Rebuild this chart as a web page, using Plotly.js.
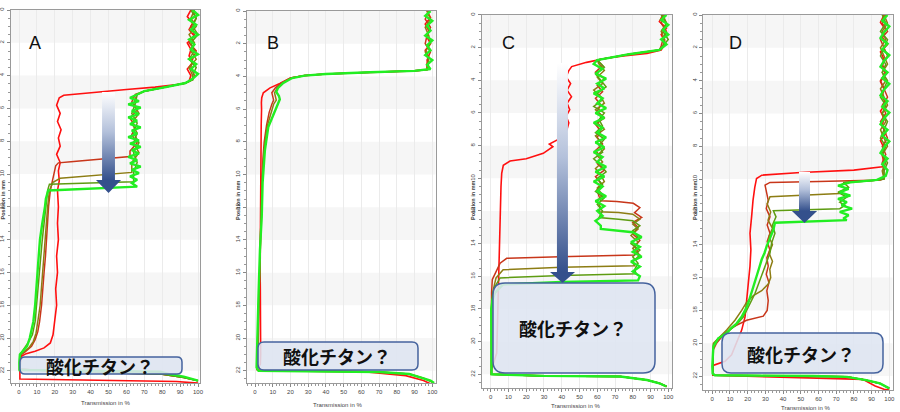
<!DOCTYPE html>
<html><head><meta charset="utf-8">
<script src="https://cdn.plot.ly/plotly-3.0.1.min.js"></script>
<style>html,body{margin:0;padding:0;background:#fff}#chart{width:900px;height:412px}</style>
</head><body><div id="chart"></div>
<script>
// ---- data: each curve is a list of [transmission %, position mm] ----
const A_red = [[96,0],[94,0.4],[97,0.8],[95,1.2],[98,1.6],[94,2.0],[96,2.4],[95,2.8],[97,3.2],[94,3.6],[96,4.0],[95,4.35],[92,4.5],[76,4.7],[60,4.85],[45,5.0],[33,5.1],[25,5.2],[22.5,5.35],[21,5.8],[23,6.3],[21.5,6.8],[23.5,7.3],[22,7.8],[23,8.3],[21,8.8],[23,9.3],[22,9.8],[22.5,10.4],[21.5,11],[22,12],[21.5,13],[22,14],[21,15],[21.5,16],[20.5,17],[21,18],[20,19],[19,19.8],[17.5,20.3],[14,20.6],[9,20.8],[4,20.95],[1.5,21.1],[0.8,21.5],[0.5,22.0],[0.5,22.5],[88,22.65],[100,22.75]];
const A_brown = [[97,0],[99,0.5],[96,1],[98,1.5],[95,2],[99,2.5],[97,3],[96,3.5],[98,4.0],[97,4.25],[93,4.45],[82,4.7],[70,4.95],[65,5.15],[63,5.6],[66,6.1],[62,6.6],[65,7.1],[63,7.6],[66,8.1],[62,8.6],[62,8.93],[52,9.05],[40,9.15],[29,9.25],[22,9.32],[20.5,9.5],[19.5,10],[18.5,10.5],[17.5,11],[16.5,12],[16,13],[15.5,14],[14.8,15],[14,16],[13.5,17],[12.6,18],[11.5,19],[10.5,19.6],[9,20.1],[7,20.5],[3.4,20.85],[1.5,21.0],[0.6,21.2],[0.4,21.9],[30,22.05],[80,22.2],[92,22.4],[100,22.6]];
const A_olive = [[98,0],[96,0.5],[99,1],[95,1.5],[98,2],[96,2.5],[99,3],[95,3.5],[97,4.0],[97,4.25],[93,4.45],[82,4.7],[70,4.95],[66,5.15],[64,5.7],[67,6.3],[63,6.9],[66,7.5],[64,8.1],[67,8.7],[63,9.3],[63,9.9],[50,10.02],[36,10.14],[23,10.26],[19,10.5],[17,11],[16,12],[15.3,13],[14.8,14],[14,15],[13.3,16],[12.5,17],[11.8,18],[10.5,19],[9.5,19.7],[8,20.2],[5.5,20.6],[2.5,20.85],[1,21.0],[0.4,21.2],[0.3,21.9],[30,22.05],[80,22.2],[92,22.4],[100,22.6]];
const A_olivegreen = [[96,0],[99,0.5],[97,1],[100,1.5],[96,2],[98,2.5],[95,3],[99,3.5],[97,4.0],[97,4.25],[93,4.45],[82,4.7],[70,4.95],[66,5.15],[65,5.7],[63,6.3],[66,6.9],[64,7.5],[67,8.1],[64,8.7],[66,9.3],[64,9.9],[64,10.47],[40,10.55],[17,10.62],[16.5,10.8],[16,11],[15,12],[13.8,13],[13,14],[12.2,15],[11.5,16],[10.8,17],[10,18],[9,19],[7.5,19.8],[5,20.3],[2.5,20.7],[1,20.9],[0.4,21.05],[0.3,21.9],[30,22.05],[80,22.2],[92,22.4],[100,22.6]];
const A_green = [[97,0],[100,0.3],[95,0.6],[99,0.9],[96,1.2],[100,1.5],[95,1.8],[98,2.1],[96,2.4],[100,2.7],[95,3.0],[99,3.3],[96,3.6],[100,3.9],[97,4.2],[93,4.45],[82,4.7],[70,4.95],[66,5.15],[62,5.35],[67,5.55],[61,5.75],[68,5.95],[63,6.15],[67,6.35],[61,6.55],[66,6.75],[62,6.95],[68,7.15],[63,7.35],[66,7.55],[61,7.75],[67,7.95],[62,8.15],[68,8.35],[63,8.55],[67,8.75],[61,8.95],[66,9.15],[62,9.35],[68,9.55],[63,9.75],[67,9.95],[62,10.15],[66,10.35],[63,10.55],[66,10.77],[40,10.9],[16.3,11.0],[15,11.5],[14.5,12],[13,13],[11.7,14],[11,15],[10.4,16],[9.8,17],[9,18],[8,19],[7,19.6],[6,20],[4.5,20.5],[2,20.8],[0.5,21.0],[0.2,21.5],[0.3,21.95],[79,22.05],[84,22.2],[92,22.35],[97,22.5],[100,22.6]];

const B_red = [[97,0],[99,0.4],[96,0.8],[98,1.2],[97,1.6],[99,2.0],[96,2.4],[98,2.8],[97,3.2],[97,3.58],[90,3.66],[65,3.75],[40,3.85],[28,3.95],[20,4.1],[14,4.43],[8.5,4.7],[4.7,5.0],[3.8,5.3],[3.6,5.6],[3.7,6],[3.5,7],[3.4,8],[3.3,9],[3.2,10],[3.3,11],[3.1,12],[3.0,13],[2.9,14],[3.0,15],[2.9,16],[3.0,17],[3.1,18],[3.2,19],[3.3,20],[3.2,21],[3.0,21.6],[1.5,21.85],[1,21.95],[60,22.05],[85,22.3],[95,22.6],[100,22.85]];
const B_brown = [[98,0],[96,0.5],[99,1],[97,1.5],[96,2],[99,2.5],[97,3],[98,3.4],[97,3.6],[90,3.66],[65,3.75],[40,3.85],[28,3.95],[20,4.1],[15,4.4],[11.5,4.7],[9.5,5.0],[10,5.25],[10.5,5.45],[9.5,5.7],[8,6.2],[6.5,7],[5.2,8],[4.5,9],[4,10],[3.5,12],[3,14],[2.6,16],[2.2,18],[1.9,20],[1.6,21.5],[1.2,21.9],[2,22.0],[70,22.07],[87,22.2],[95,22.45],[100,22.7]];
const B_olive = [[97,0],[99,0.5],[96,1],[98,1.5],[99,2],[96,2.5],[98,3],[97,3.4],[97,3.6],[90,3.66],[65,3.75],[40,3.85],[28,3.95],[20.5,4.1],[15.5,4.4],[12.5,4.7],[11,5.0],[11.5,5.25],[12,5.45],[10.5,5.7],[9,6.2],[7,7],[5.6,8],[4.8,9],[4.2,10],[3.6,12],[3.1,14],[2.6,16],[2.2,18],[1.8,20],[1.4,21.5],[1,21.9],[2,22.0],[70,22.07],[87,22.2],[95,22.45],[100,22.7]];
const B_green = [[99,0],[96,0.3],[100,0.6],[97,0.9],[99,1.2],[96,1.5],[100,1.8],[97,2.1],[99,2.4],[96,2.7],[100,3.0],[97,3.3],[99,3.55],[90,3.66],[65,3.75],[40,3.85],[28,3.95],[21,4.1],[16,4.4],[13,4.7],[12,4.95],[13.5,5.2],[14,5.4],[13,5.65],[10.3,6.3],[7.5,7.1],[5.6,8.5],[4.3,10.5],[3.8,12.6],[2.8,14.6],[1.9,17.7],[1.3,20.8],[0.9,21.8],[2,22.0],[70,22.08],[87,22.2],[95,22.45],[99,22.6],[101,22.75]];

const C_red = [[97,0],[95,0.4],[99,0.8],[96,1.2],[98,1.6],[97,1.95],[96,2.14],[88,2.35],[76,2.5],[65,2.65],[54,2.9],[45.6,3.16],[44,3.4],[42.5,3.8],[45,4.2],[43,4.6],[45.5,5.0],[43,5.4],[44.5,5.8],[42.5,6.2],[44,6.6],[43,7.0],[41,7.45],[37,7.65],[33,7.9],[35,8.06],[29.6,8.47],[20,8.8],[10.9,8.94],[7.1,9.2],[6.2,9.7],[5.8,10.5],[5.6,11.3],[5.4,12.4],[5.3,13.4],[5.0,14.4],[4.7,15.4],[4.5,16.4],[4.3,17.4],[4.1,18.5],[3.9,19.5],[3.7,20.2],[3.4,20.7],[2.5,21.0],[1.5,21.3],[0.5,21.7],[0.3,22.0],[30,22.1],[73,22.14],[88,22.35],[95,22.55],[99,22.75]];
const C_brown = [[98,0],[96,0.5],[99,1],[97,1.5],[96,1.9],[95,2.14],[78,2.4],[60,2.76],[63,3.1],[59,3.5],[64,3.9],[60,4.3],[63,4.7],[59,5.1],[62,5.5],[60,5.9],[64,6.3],[59,6.7],[62,7.1],[60,7.5],[63,7.9],[59,8.3],[62,8.7],[60,9.1],[64,9.5],[59,9.9],[62,10.3],[60,10.7],[61,11.1],[62,11.38],[71,11.42],[80.3,11.53],[84,11.8],[81,12.1],[85,12.4],[80,12.7],[83,13.0],[80,13.4],[84,13.8],[81,14.2],[83,14.5],[81,14.7],[39,14.8],[9,14.9],[5.3,15.2],[2.4,15.8],[0.9,16.2],[0.5,17],[0.4,21.9],[0.5,22.0],[30,22.1],[73,22.14],[88,22.35],[95,22.55],[99,22.75]];
const C_olive = [[97,0],[99,0.5],[96,1],[98,1.5],[97,1.9],[95,2.14],[78,2.4],[60,2.76],[61,3.0],[64,3.4],[60,3.8],[63,4.2],[58,4.6],[62,5.0],[64,5.4],[59,5.8],[63,6.2],[60,6.6],[64,7.0],[59,7.4],[62,7.8],[64,8.2],[60,8.6],[63,9.0],[59,9.4],[62,9.8],[64,10.2],[60,10.6],[63,11.0],[60,11.4],[62,11.8],[61,12.05],[72,12.1],[80,12.2],[84,12.5],[80,12.8],[83,13.1],[79,13.5],[83,13.9],[80,14.3],[84,14.7],[80,15.1],[81,15.35],[40,15.45],[7,15.6],[3,16.1],[1.5,16.8],[0.5,17.5],[0.4,21.9],[0.5,22.0],[30,22.1],[73,22.14],[88,22.35],[95,22.55],[99,22.75]];
const C_olivegreen = [[96,0],[99,0.5],[97,1],[100,1.5],[97,1.9],[95,2.14],[78,2.4],[60,2.76],[64,3.2],[59,3.6],[62,4.0],[65,4.4],[60,4.8],[63,5.2],[58,5.6],[64,6.0],[61,6.4],[63,6.8],[59,7.2],[64,7.6],[61,8.0],[63,8.4],[58,8.8],[62,9.2],[65,9.6],[60,10.0],[63,10.4],[59,10.8],[64,11.2],[60,11.6],[63,12.0],[61,12.4],[72,12.5],[80,12.6],[84,12.9],[80,13.2],[83,13.6],[79,14.0],[84,14.4],[80,14.8],[83,15.2],[81,15.6],[82,15.85],[40,15.95],[5.3,16.1],[2,16.7],[1,17.2],[0.4,18],[0.3,21.9],[0.5,22.0],[30,22.1],[73,22.14],[88,22.35],[95,22.55],[99,22.75]];
const C_green = [[99,0],[96,0.3],[100,0.6],[97,0.9],[100,1.2],[96,1.5],[99,1.8],[95,2.14],[78,2.4],[60,2.76],[58,3.0],[63,3.3],[59,3.6],[65,3.9],[60,4.2],[64,4.5],[58,4.8],[63,5.1],[60,5.4],[65,5.7],[59,6.0],[64,6.3],[58,6.6],[63,6.9],[60,7.2],[65,7.5],[59,7.8],[64,8.1],[58,8.4],[63,8.7],[60,9.0],[65,9.3],[59,9.6],[64,9.9],[58,10.2],[63,10.5],[60,10.8],[65,11.1],[59,11.4],[64,11.7],[60,12.0],[63,12.3],[59,12.6],[62,12.9],[62,13.1],[72,13.2],[80,13.3],[85,13.6],[79,13.9],[84,14.2],[80,14.5],[85,14.8],[79,15.1],[84,15.4],[80,15.7],[84,16.0],[83,16.25],[40,16.35],[7,16.5],[2.5,17.0],[1,17.45],[0.3,18],[0.2,21.9],[0.5,22.0],[30,22.1],[73,22.14],[88,22.35],[95,22.55],[99,22.75]];

const D_red = [[97,0],[95,0.45],[98,0.9],[96,1.35],[99,1.8],[95,2.25],[97,2.7],[96,3.15],[98,3.6],[95,4.05],[97,4.5],[96,4.95],[98,5.4],[95,5.85],[97,6.3],[96,6.75],[98,7.2],[95,7.65],[97,8.1],[96,8.55],[97,9.0],[96,9.25],[80,9.45],[50,9.6],[28,9.76],[25,9.96],[24,10.5],[23,11.3],[22.2,12.3],[21.3,13.3],[21.8,14.3],[21.3,15.3],[20.3,16.4],[19.4,17.4],[18.5,18.4],[16.6,19.2],[13.7,20.0],[10.9,20.7],[7.2,21.1],[2.4,21.25],[0.5,21.35],[0.3,21.95],[50,22.1],[85,22.2],[92,22.6],[97,22.8],[100,22.85]];
const D_brown = [[98,0],[96,0.5],[99,1],[95,1.5],[97,2],[99,2.5],[96,3],[98,3.5],[95,4],[97,4.5],[99,5],[96,5.5],[98,6],[95,6.5],[97,7],[99,7.5],[96,8],[98,8.5],[96,9],[97,9.5],[97,9.95],[95,10.06],[60,10.14],[32.6,10.2],[29.8,10.37],[30.5,10.8],[31.6,11.3],[30.5,11.8],[32.6,12.3],[31,12.8],[32.6,13.3],[31,13.8],[32.5,14.3],[30.8,14.8],[31.6,15.3],[30.5,15.8],[32,16.3],[30.8,16.8],[31.6,17.4],[31,18.0],[28.8,18.35],[19.4,18.6],[11.9,19.0],[6.2,19.5],[2.4,20.0],[0.6,20.4],[0.3,21.9],[1.5,21.95],[57,22.0],[76,22.05],[87,22.25],[94.7,22.45],[100,22.75]];
const D_olive = [[97,0],[99,0.5],[96,1],[98,1.5],[95,2],[97,2.5],[99,3],[96,3.5],[98,4],[95,4.5],[97,5],[99,5.5],[96,6],[98,6.5],[95,7],[97,7.5],[99,8],[96,8.5],[98,9],[96,9.5],[97,10.0],[90,10.1],[75,10.2],[72,10.4],[76,10.6],[72,10.87],[50,10.97],[32.6,11.08],[31,11.5],[33,12],[31.5,12.5],[34,13],[32,13.5],[34,14],[32,14.5],[34,15],[32.5,15.5],[33,16],[31.6,16.4],[27.9,16.8],[23.2,17.1],[19.4,17.5],[16.6,18],[12.8,18.6],[8.1,19.2],[3.4,19.7],[0.6,20.0],[0.3,21.9],[1.5,21.95],[57,22.0],[76,22.05],[87,22.25],[94.7,22.45],[100,22.75]];
const D_olivegreen = [[96,0],[98,0.5],[95,1],[99,1.5],[97,2],[95,2.5],[98,3],[96,3.5],[99,4],[97,4.5],[95,5],[98,5.5],[96,6],[99,6.5],[97,7],[95,7.5],[98,8],[96,8.5],[99,9],[97,9.5],[97,10.0],[90,10.1],[74,10.2],[77,10.5],[71,10.8],[76,11.1],[72,11.4],[75,11.6],[72,11.8],[50,11.87],[34.5,11.93],[36,12.3],[34,12.8],[35.4,13.3],[33.5,13.9],[32.6,14.5],[29.8,15.3],[27,16.2],[24,17],[20.3,17.8],[17.5,18.4],[13.5,18.9],[8.5,19.3],[3.4,19.7],[0.6,20.1],[0.3,21.9],[1.5,21.95],[57,22.0],[76,22.05],[87,22.25],[94.7,22.45],[100,22.75]];
const D_green = [[99,0],[96,0.35],[100,0.7],[97,1.05],[95,1.4],[99,1.75],[96,2.1],[100,2.45],[97,2.8],[95,3.15],[99,3.5],[96,3.85],[100,4.2],[97,4.55],[95,4.9],[99,5.25],[96,5.6],[100,5.95],[97,6.3],[95,6.65],[99,7.0],[96,7.35],[100,7.7],[97,8.05],[95,8.4],[99,8.75],[96,9.1],[99,9.45],[98,9.8],[93,10.05],[78,10.2],[71,10.4],[77,10.6],[72,10.8],[78,11.0],[71,11.2],[76,11.4],[73,11.6],[79,11.8],[72,12.0],[77,12.2],[74,12.4],[76,12.5],[50,12.58],[35.4,12.66],[34.5,13.1],[32.5,13.6],[30.7,14.1],[29.5,14.5],[27.9,14.9],[26.5,15.4],[25,15.95],[23.6,16.5],[22.2,17],[20.5,17.5],[18.5,18],[16.5,18.4],[13.7,18.8],[10.5,19.1],[8.1,19.4],[3.4,19.7],[0.6,20.2],[0,21.4],[0.2,21.85],[1.5,21.95],[57,22.0],[76,22.05],[87,22.25],[94.7,22.45],[100,22.75]];

const panelLabels = ['A','B','C','D'];
const boxText = '酸化チタン？';
const xTitle = 'Transmission in %';
const yTitle = 'Position in mm';

// ---- styling / layout ----
const W = 900, H = 412;
const COL = {red:'#ff1010', brown:'#c8361a', olive:'#8d7d14', olivegreen:'#5e9c12', green:'#22ee22'};
const WID = {red:1.6, brown:1.5, olive:1.5, olivegreen:1.5, green:2.4};
const fx = p => p / W, fy = p => 1 - p / H;

const panels = [
  {dom:[10.5,200,10,383], xr:[-4.75,101.1], yr:[22.74,0],
   curves:[[A_red,'red'],[A_brown,'brown'],[A_olive,'olive'],[A_olivegreen,'olivegreen'],[A_green,'green']],
   arrow:{sx:[46.4,53.6], top:5.0, head:10.37, hx:[43,57], tip:11.16},
   box:[20,357,182,374,5], text:[100,366], label:[35,43], ytl:[2.5,200], xtl:[105,403]},
  {dom:[246.7,435.5,11,383], xr:[-4.68,101.8], yr:[22.75,0],
   curves:[[B_red,'red'],[B_brown,'brown'],[B_olive,'olive'],[B_green,'green']],
   arrow:null,
   box:[258,342,418,370,6], text:[337,356], label:[273,43], ytl:[238,200], xtl:[337,405]},
  {dom:[481.7,672,14.5,388], xr:[-5.07,102.1], yr:[22.84,-0.03],
   curves:[[C_red,'red'],[C_brown,'brown'],[C_olive,'olive'],[C_olivegreen,'olivegreen'],[C_green,'green']],
   arrow:{sx:[37.3,43.5], top:2.94, head:15.74, hx:[33.4,47.5], tip:16.41},
   box:[493,283,655,373,12], text:[573,328], label:[508,43], ytl:[473,200], xtl:[575,406]},
  {dom:[703.3,892.5,15,390], xr:[-5.08,101.8], yr:[22.85,0],
   curves:[[D_red,'red'],[D_brown,'brown'],[D_olive,'olive'],[D_olivegreen,'olivegreen'],[D_green,'green']],
   arrow:{sx:[49,55.2], top:9.57, head:11.94, hx:[45,59.2], tip:12.68},
   box:[722,333,883,373,9], text:[801,354], label:[735,43], ytl:[695,200], xtl:[805,408]}
];

function rrect(x0,y0,x1,y1,r){
  const P=(x,y)=>fx(x).toFixed(5)+','+fy(y).toFixed(5);
  return 'M'+P(x0+r,y0)+' L'+P(x1-r,y0)+' Q'+P(x1,y0)+' '+P(x1,y0+r)+
         ' L'+P(x1,y1-r)+' Q'+P(x1,y1)+' '+P(x1-r,y1)+
         ' L'+P(x0+r,y1)+' Q'+P(x0,y1)+' '+P(x0,y1-r)+
         ' L'+P(x0,y0+r)+' Q'+P(x0,y0)+' '+P(x0+r,y0)+' Z';
}

const traces = [], shapes = [], annotations = [];
const layout = {width:W, height:H, margin:{l:0,r:0,t:0,b:0}, paper_bgcolor:'#fff',
  plot_bgcolor:'rgba(0,0,0,0)', showlegend:false, shapes, annotations};

panels.forEach((p,i)=>{
  const n = i===0 ? '' : String(i+1);
  const xa = 'x'+n, ya = 'y'+n;
  layout['xaxis'+n] = {domain:[fx(p.dom[0]), fx(p.dom[1])], range:p.xr, anchor:ya,
    showgrid:true, gridcolor:'#ebebeb', gridwidth:1, tick0:0, dtick:10,
    ticks:'outside', ticklen:3, tickcolor:'#888', tickwidth:1,
    tickfont:{size:6, color:'#444', family:'Liberation Sans, Arial'},
    minor:{dtick:2, tick0:0, ticks:'outside', ticklen:2, tickcolor:'#999', showgrid:false},
    showline:true, linecolor:'#9a9a9a', linewidth:1, mirror:true, zeroline:false, fixedrange:true};
  layout['yaxis'+n] = {domain:[fy(p.dom[3]), fy(p.dom[2])], range:p.yr, anchor:xa,
    showgrid:false, tick0:0, dtick:2, ticks:'outside', ticklen:3, tickcolor:'#888',
    tickangle:-90, tickfont:{size:6, color:'#444', family:'Liberation Sans, Arial'},
    minor:{dtick:0.5, tick0:0, ticks:'outside', ticklen:2, tickcolor:'#999', showgrid:false},
    showline:true, linecolor:'#9a9a9a', linewidth:1, mirror:true, zeroline:false, fixedrange:true};
  // alternating light bands
  [0,4,8,12,16,20].forEach(b=>shapes.push({type:'rect', xref:xa+' domain', yref:ya,
    x0:0, x1:1, y0:b, y1:b+2, fillcolor:'#f6f6f6', line:{width:0}, layer:'below'}));
  // curves
  p.curves.forEach(([pts,c])=>traces.push({type:'scatter', mode:'lines', xaxis:xa, yaxis:ya,
    x:pts.map(d=>d[0]), y:pts.map(d=>d[1]), line:{color:COL[c], width:WID[c]}, hoverinfo:'skip'}));
  // arrow
  if(p.arrow){
    const a=p.arrow;
    traces.push({type:'scatter', mode:'lines', xaxis:xa, yaxis:ya, hoverinfo:'skip',
      x:[a.sx[0],a.sx[1],a.sx[1],a.hx[1],(a.hx[0]+a.hx[1])/2,a.hx[0],a.sx[0],a.sx[0]],
      y:[a.top,a.top,a.head,a.head,a.tip,a.head,a.head,a.top],
      fill:'toself', line:{width:0, color:'rgba(0,0,0,0)'},
      fillgradient:{type:'vertical', start:a.top, stop:a.head,
        colorscale:[[0,'#ffffff'],[0.45,'#b4c1db'],[1,'#34508c']]}});
  }
  // box
  const bx=p.box;
  shapes.push({type:'path', xref:'paper', yref:'paper', path:rrect(bx[0],bx[1],bx[2],bx[3],bx[4]),
    fillcolor:'rgba(222,229,241,0.88)', line:{color:'#45639e', width:1.5}, layer:'above'});
  annotations.push({xref:'paper', yref:'paper', x:fx(p.text[0]), y:fy(p.text[1]), xanchor:'center', yanchor:'middle',
    text:'<b>'+boxText+'</b>', showarrow:false, font:{size:18, color:'#111', family:'Noto Sans CJK JP'}});
  annotations.push({xref:'paper', yref:'paper', x:fx(p.label[0]), y:fy(p.label[1]), xanchor:'center', yanchor:'middle',
    text:panelLabels[i], showarrow:false, font:{size:18, color:'#111', family:'Liberation Sans, Arial'}});
  annotations.push({xref:'paper', yref:'paper', x:fx(p.ytl[0]), y:fy(p.ytl[1]), xanchor:'center', yanchor:'middle',
    text:'<b>'+yTitle+'</b>', textangle:-90, showarrow:false, font:{size:5.5, color:'#444', family:'Liberation Sans, Arial'}});
  annotations.push({xref:'paper', yref:'paper', x:fx(p.xtl[0]), y:fy(p.xtl[1]), xanchor:'center', yanchor:'middle',
    text:xTitle, showarrow:false, font:{size:6, color:'#444', family:'Liberation Sans, Arial'}});
});

Plotly.newPlot('chart', traces, layout, {staticPlot:true, displayModeBar:false});
</script>
</body></html>
